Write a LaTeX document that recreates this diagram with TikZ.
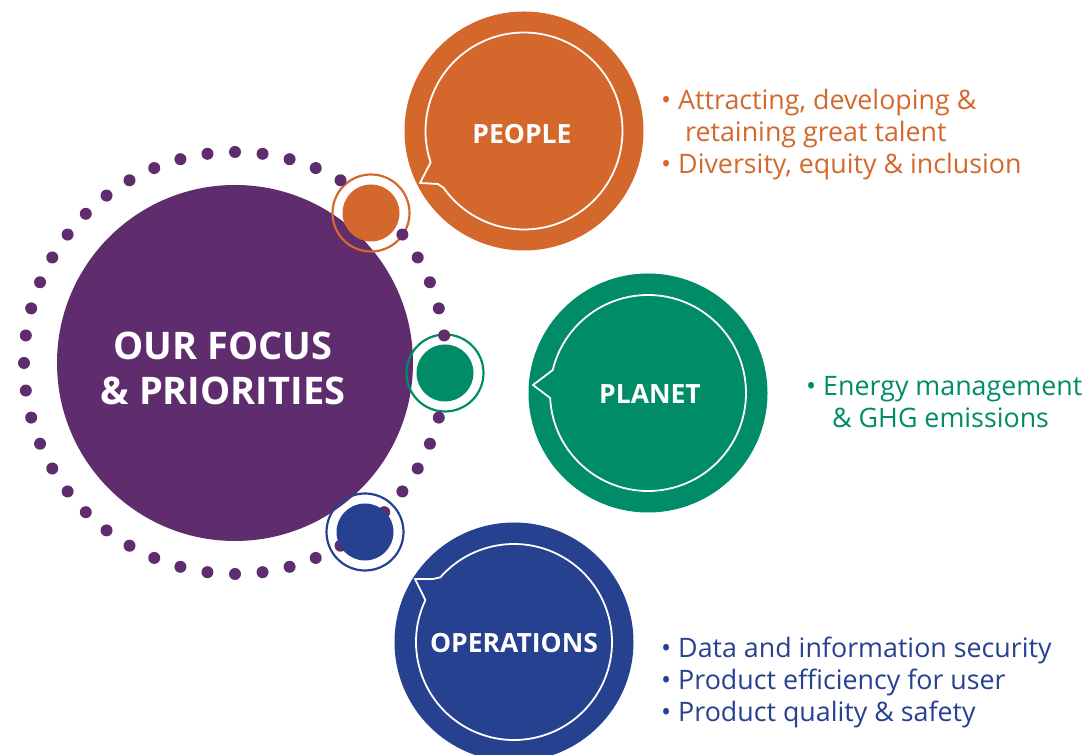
\documentclass[tikz,border=0pt]{standalone}
\usepackage{fontspec}
\setmainfont{Open Sans}
\usetikzlibrary{calc}
\definecolor{Focus}{HTML}{5F2C6E}
\definecolor{People}{HTML}{D4682C}
\definecolor{Planet}{HTML}{008C66}
\definecolor{Operations}{HTML}{26418F}

\begin{document}
\begin{tikzpicture}[
  x=1pt, y=1pt,
  hub/.style={circle, fill=Focus, minimum size=356pt, inner sep=0pt},
  bubble/.style={circle, minimum size=239pt, inner sep=0pt},
  disc/.style={circle, minimum size=57pt, inner sep=0pt},
  ring/.style={line width=2.2pt},
  tail/.style={draw=white, line width=1.8pt, line join=round},
  title/.style={text=white, font=\bfseries\fontsize{26.5}{30}\selectfont, inner sep=0pt},
  points/.style={align=left, anchor=north west, inner sep=0pt, font=\fontsize{26.8}{32}\selectfont}
]
\useasboundingbox (0,0) rectangle (1088,755);

\node [hub] (hub) at (235,392) {};

% small pins with their rings
\coordinate (peoplepin) at (371,542);
\coordinate (planetpin) at (445,382);
\coordinate (operationspin) at (365,223);
\draw [ring, People] (peoplepin) circle [radius=38.5];
\draw [ring, Planet] (planetpin) circle [radius=38.5];
\draw [ring, Operations] (operationspin) circle [radius=38.5];

\foreach \a in {0,7.5,...,352.5}
  \fill [Focus] ($(hub.center)+(\a:211)$) circle [radius=6];

\node [disc, fill=People] (peopledot) at (peoplepin) {};
\node [disc, fill=Planet] (planetdot) at (planetpin) {};
\node [disc, fill=Operations] (operationsdot) at (operationspin) {};

% speech bubbles
\node [bubble, fill=People] (people) at (524,624) {};
\node [bubble, fill=Planet] (planet) at (648,362) {};
\node [bubble, fill=Operations] (operations) at (514,113) {};

\coordinate (peopletip) at (420,572);
\coordinate (planettip) at (533,370);
\coordinate (operationstip) at (415,176);

\draw [tail] ($(people.center)+(215.3:98.5)$) arc [start angle=215.3, end angle=558.6, radius=98.5]
  -- (peopletip) -- (438,571) -- cycle;
\draw [tail] ($(planet.center)+(182.9:98)$) arc [start angle=182.9, end angle=526.5, radius=98]
  -- (planettip) -- cycle;
\draw [tail] ($(operations.center)+(154.7:98)$) arc [start angle=154.7, end angle=498.7, radius=98]
  -- (433,176) -- (operationstip) -- cycle;

\node [title, align=center, font=\bfseries\fontsize{38}{45}\selectfont] (focus) at (223,387) {OUR FOCUS\\\& PRIORITIES};
\node [title] (peoplename) at (522,620.5) {PEOPLE};
\node [title] (planetname) at (650,361) {PLANET};
\node [title] (operationsname) at (514,112) {OPERATIONS};

\node [points, text=People] (peoplelist) at (661,666)
  {• Attracting, developing \&\\\hspace*{24pt}retaining great talent\\• Diversity, equity \& inclusion};
\node [points, text=Planet] (planetlist) at (806,378.5)
  {• Energy management\\\hspace*{26pt}\& GHG emissions};
\node [points, text=Operations] (operationslist) at (661,118)
  {• Data and information security\\• Product efficiency for user\\• Product quality \& safety};
\end{tikzpicture}
\end{document}
